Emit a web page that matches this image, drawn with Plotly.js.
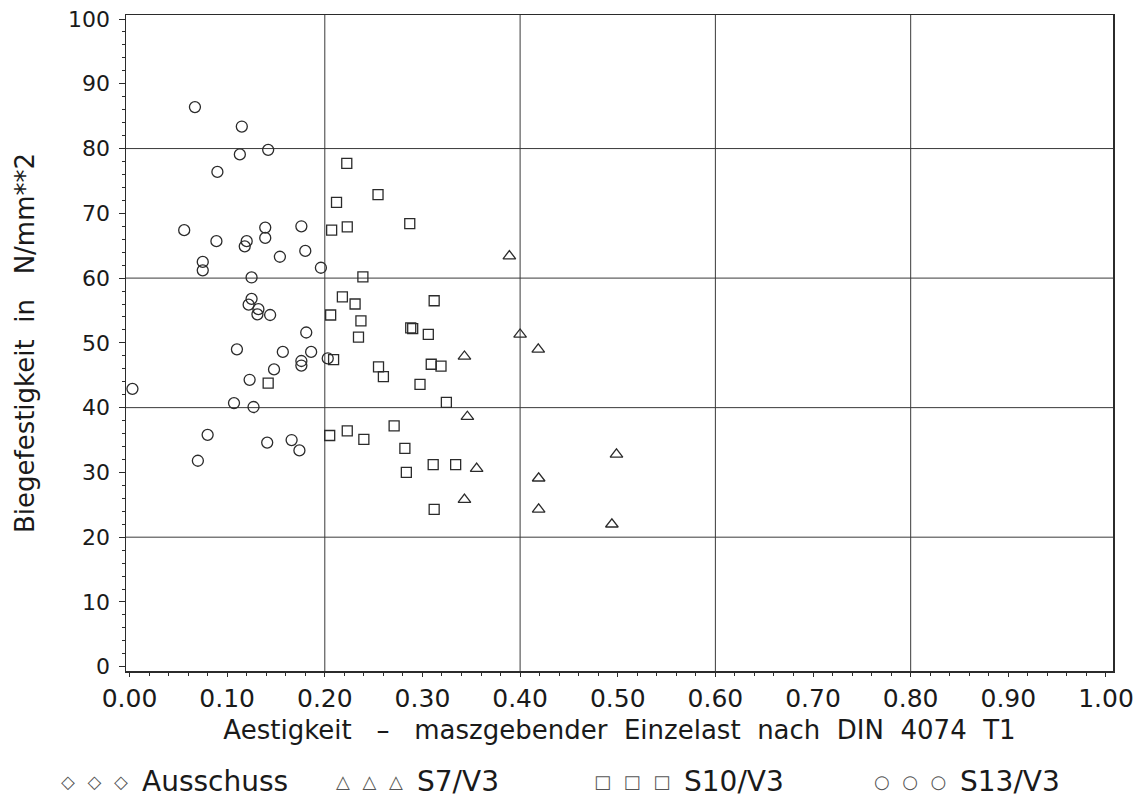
<!DOCTYPE html>
<html>
<head>
<meta charset="utf-8">
<script src="https://cdn.plot.ly/plotly-3.0.1.min.js"></script>
<style>html,body{margin:0;padding:0;background:#fff;}#chart{width:1138px;height:798px;}</style>
</head>
<body>
<div id="chart"></div>
<script>
// ---- data ----
const ausschussX = [];
const ausschussY = [];

const s7X = [0.343, 0.346, 0.3555, 0.343, 0.389, 0.400, 0.4186, 0.4987, 0.419, 0.419, 0.494];
const s7Y = [47.9, 38.6, 30.6, 25.8, 63.4, 51.3, 49.0, 32.8, 29.1, 24.3, 22.0];

const s10X = [0.2225, 0.2545, 0.212, 0.207, 0.223, 0.287, 0.239, 0.218, 0.231, 0.312,
              0.206, 0.237, 0.2345, 0.288, 0.290, 0.306, 0.209, 0.142, 0.255, 0.260,
              0.309, 0.319, 0.2975, 0.3245, 0.271, 0.205, 0.223, 0.240, 0.282, 0.2835,
              0.311, 0.334, 0.312];
const s10Y = [77.7, 72.9, 71.7, 67.4, 67.9, 68.4, 60.2, 57.1, 56.0, 56.5,
              54.3, 53.4, 50.9, 52.3, 52.2, 51.3, 47.4, 43.8, 46.3, 44.8,
              46.7, 46.4, 43.6, 40.8, 37.2, 35.7, 36.4, 35.1, 33.7, 30.0,
              31.2, 31.2, 24.3];

const s13X = [0.067, 0.115, 0.113, 0.142, 0.090, 0.056, 0.089, 0.118, 0.120, 0.139,
              0.139, 0.075, 0.075, 0.154, 0.176, 0.180, 0.125, 0.196, 0.125, 0.122,
              0.132, 0.131, 0.144, 0.181, 0.110, 0.157, 0.186, 0.176, 0.176, 0.148,
              0.123, 0.003, 0.107, 0.127, 0.080, 0.141, 0.166, 0.174, 0.070, 0.203];
const s13Y = [86.4, 83.4, 79.1, 79.8, 76.4, 67.4, 65.7, 64.9, 65.7, 67.8,
              66.2, 62.5, 61.2, 63.3, 68.0, 64.2, 60.1, 61.6, 56.8, 55.9,
              55.2, 54.4, 54.3, 51.6, 49.0, 48.6, 48.6, 47.2, 46.5, 45.9,
              44.3, 42.9, 40.7, 40.1, 35.8, 34.6, 35.0, 33.4, 31.8, 47.6];

const gridX = [0.2, 0.4, 0.6, 0.8];
const gridY = [20, 40, 60, 80];

const SP = '\u2002\u2009';
const legendGlyphs = ['\u25C7' + SP + '\u25C7' + SP + '\u25C7', '\u25B3' + SP + '\u25B3' + SP + '\u25B3',
                      '\u25A1' + SP + '\u25A1' + SP + '\u25A1', '\u25CB' + SP + '\u25CB' + SP + '\u25CB'];
const legendNames = ['Ausschuss', 'S7/V3', 'S10/V3', 'S13/V3'];

const xTitle = 'Aestigkeit\u00A0\u00A0\u00A0\u2013\u00A0\u00A0\u00A0maszgebender\u00A0\u00A0Einzelast\u00A0\u00A0nach\u00A0\u00A0DIN\u00A0\u00A04074\u00A0\u00A0T1';
const yTitle = 'Biegefestigkeit\u00A0\u00A0in\u00A0\u00A0\u00A0N/mm**2';

// ---- styling ----
const ink = '#2b2b2b';
const FONT = 'DejaVu Sans, Liberation Sans, Arial, sans-serif';

function mk(sym, size) {
  return {symbol: sym, size: size, color: ink, line: {width: 1.3, color: ink}};
}

const traces = [
  {x: ausschussX, y: ausschussY, type: 'scatter', mode: 'markers', name: legendNames[0], marker: mk('diamond-open', 11), showlegend: false},
  {x: s7X, y: s7Y, type: 'scatter', mode: 'markers', name: legendNames[1], marker: mk('triangle-up-open', 11), showlegend: false},
  {x: s10X, y: s10Y, type: 'scatter', mode: 'markers', name: legendNames[2], marker: mk('square-open', 10), showlegend: false},
  {x: s13X, y: s13Y, type: 'scatter', mode: 'markers', name: legendNames[3], marker: mk('circle-open', 11), showlegend: false}
];

const shapes = [];
gridX.forEach(v => shapes.push({type: 'line', xref: 'x', yref: 'paper', x0: v, x1: v, y0: 0, y1: 1, line: {color: '#3a3a3a', width: 1}, layer: 'below'}));
gridY.forEach(v => shapes.push({type: 'line', xref: 'paper', yref: 'y', x0: 0, x1: 1, y0: v, y1: v, line: {color: '#3a3a3a', width: 1}, layer: 'below'}));

// legend row below the plot: glyphs right-aligned just before each name
const nameX = [0.0142, 0.2928, 0.5633, 0.8430];
const glyphGap = 10 / 987;
const annotations = [];
legendNames.forEach((n, i) => {
  annotations.push({xref: 'paper', yref: 'paper', x: nameX[i] - glyphGap, y: -0.1677, xanchor: 'right', yanchor: 'middle',
    text: legendGlyphs[i], showarrow: false, font: {family: FONT, size: 18, color: '#555'}});
  annotations.push({xref: 'paper', yref: 'paper', x: nameX[i], y: -0.1677, xanchor: 'left', yanchor: 'middle',
    text: n, showarrow: false, font: {family: FONT, size: 28, color: '#1a1a1a'}});
});

const layout = {
  width: 1138, height: 798,
  margin: {l: 126, r: 25, t: 15, b: 127},
  paper_bgcolor: '#fff', plot_bgcolor: '#fff',
  showlegend: false,
  font: {family: FONT, color: '#1a1a1a'},
  xaxis: {
    range: [-0.0036, 1.0072], tickmode: 'linear', tick0: 0, dtick: 0.1, tickformat: '.2f',
    showgrid: false, zeroline: false, showline: true, mirror: true, linecolor: ink, linewidth: 1.5,
    ticks: 'outside', ticklen: 4, tickcolor: ink, tickwidth: 1,
    minor: {dtick: 0.02, ticks: 'outside', ticklen: 3, tickcolor: ink, showgrid: false},
    tickfont: {family: FONT, size: 25, color: '#1a1a1a'},
    title: {text: xTitle, font: {family: FONT, size: 26, color: '#1a1a1a'}, standoff: 9},
    automargin: false
  },
  yaxis: {
    range: [-0.66, 100.62], tickmode: 'linear', tick0: 0, dtick: 10,
    showgrid: false, zeroline: false, showline: true, mirror: true, linecolor: ink, linewidth: 1.5,
    ticks: 'outside', ticklen: 6, tickcolor: ink, tickwidth: 1,
    minor: {dtick: 2, ticks: 'outside', ticklen: 3, tickcolor: ink, showgrid: false},
    tickfont: {family: FONT, size: 22, color: '#1a1a1a'},
    ticklabelstandoff: 4,
    title: {text: yTitle, font: {family: FONT, size: 26, color: '#1a1a1a'}, standoff: 26},
    automargin: false
  },
  shapes: shapes,
  annotations: annotations
};

Plotly.newPlot('chart', traces, layout, {staticPlot: true, displayModeBar: false});
</script>
</body>
</html>
